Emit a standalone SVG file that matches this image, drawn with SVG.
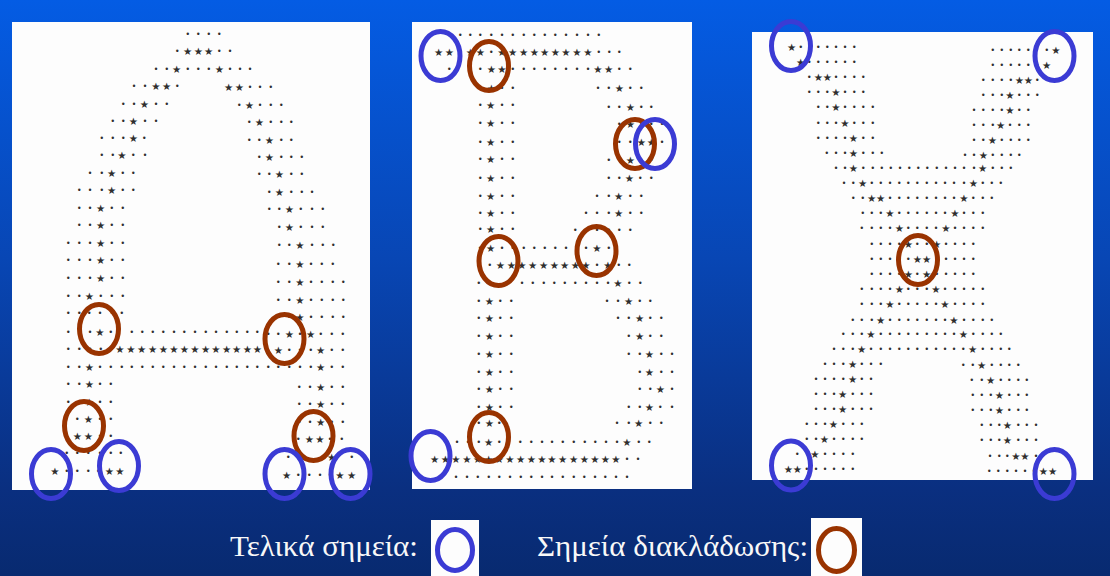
<svg xmlns="http://www.w3.org/2000/svg" width="1110" height="576" viewBox="0 0 1110 576">
<defs>
<linearGradient id="bg" x1="0" y1="0" x2="0" y2="1">
<stop offset="0" stop-color="#045ce4"/>
<stop offset="0.45" stop-color="#0846b4"/>
<stop offset="0.85" stop-color="#0a2f80"/>
<stop offset="1" stop-color="#082a70"/>
</linearGradient>
<style>
.panel{fill:#fdfdfd}
.r{fill:#2e2e2e;text-anchor:middle;dominant-baseline:central}
.d{font-family:"Liberation Sans",Arial,sans-serif;font-size:26px;text-anchor:middle;dominant-baseline:central}
.s{font-family:"DejaVu Sans",sans-serif;font-size:31px;text-anchor:middle;dominant-baseline:central}
.end{fill:none;stroke:#3b3bd4;stroke-width:5}
.br{fill:none;stroke:#993300;stroke-width:5}
.lg{font-family:"Liberation Serif","Times New Roman",serif;font-size:30px;fill:#f8f8f8}
</style>
</defs>
<rect width="1110" height="576" fill="url(#bg)"/>

<g id="panel-A">
<rect class="panel" x="12" y="22" width="358" height="468"/>
<g transform="translate(50,25) scale(0.33333)">
<text class="r" y="27"><tspan class="d" x="413 445 476 508">••••</tspan></text>
<text class="r" y="78"><tspan class="d" x="382 508 540">•••</tspan><tspan class="s" x="413 445 476">★★★</tspan></text>
<text class="r" y="131"><tspan class="d" x="318 350 413 445 476 540 570 600">••••••••</tspan><tspan class="s" x="380 508">★★</tspan></text>
<text class="r" y="183"><tspan class="d" x="252 285 382">•••</tspan><tspan class="s" x="318 350">★★</tspan><tspan class="d" x="600 630 662" y="186">•••</tspan><tspan class="s" x="536 568" y="186">★★</tspan></text>
<text class="r" y="236"><tspan class="d" x="220 252 318 350">••••</tspan><tspan class="s" x="283">★</tspan><tspan class="d" x="568 630 662 694" y="239">••••</tspan><tspan class="s" x="598" y="239">★</tspan></text>
<text class="r" y="288"><tspan class="d" x="188 220 285 318">••••</tspan><tspan class="s" x="250">★</tspan><tspan class="d" x="598 662 694 724" y="292">••••</tspan><tspan class="s" x="628" y="292">★</tspan></text>
<text class="r" y="340"><tspan class="d" x="155 188 220 283">••••</tspan><tspan class="s" x="250">★</tspan><tspan class="d" x="598 628 694 724" y="345">••••</tspan><tspan class="s" x="658" y="345">★</tspan></text>
<text class="r" y="390"><tspan class="d" x="155 188 250 285">••••</tspan><tspan class="s" x="216">★</tspan><tspan class="d" x="628 694 724 755" y="395">••••</tspan><tspan class="s" x="658" y="395">★</tspan></text>
<text class="r" y="443"><tspan class="d" x="120 155 218 250">••••</tspan><tspan class="s" x="185">★</tspan><tspan class="d" x="628 658 724 755" y="448">••••</tspan><tspan class="s" x="688" y="448">★</tspan></text>
<text class="r" y="495"><tspan class="d" x="88 120 155 218 250">•••••</tspan><tspan class="s" x="185">★</tspan><tspan class="d" x="658 724 755 786" y="500">••••</tspan><tspan class="s" x="688" y="500">★</tspan></text>
<text class="r" y="548"><tspan class="d" x="88 120 185 218">••••</tspan><tspan class="s" x="152">★</tspan><tspan class="d" x="658 688 752 786 818" y="553">•••••</tspan><tspan class="s" x="718" y="553">★</tspan></text>
<text class="r" y="600"><tspan class="d" x="88 120 185 218">••••</tspan><tspan class="s" x="152">★</tspan><tspan class="d" x="688 752 786 818" y="605">••••</tspan><tspan class="s" x="718" y="605">★</tspan></text>
<text class="r" y="655"><tspan class="d" x="55 88 120 185 218">•••••</tspan><tspan class="s" x="152">★</tspan><tspan class="d" x="688 718 786 818 850" y="660">•••••</tspan><tspan class="s" x="750" y="660">★</tspan></text>
<text class="r" y="705"><tspan class="d" x="55 88 120 185 218">•••••</tspan><tspan class="s" x="152">★</tspan><tspan class="d" x="685 718 783 815 848" y="716">•••••</tspan><tspan class="s" x="750" y="716">★</tspan></text>
<text class="r" y="760"><tspan class="d" x="55 88 120 185 218">•••••</tspan><tspan class="s" x="152">★</tspan><tspan class="d" x="685 718 783 815 848 880" y="770">••••••</tspan><tspan class="s" x="750" y="770">★</tspan></text>
<text class="r" y="812"><tspan class="d" x="55 88 152 185 218">•••••</tspan><tspan class="s" x="118">★</tspan><tspan class="d" x="685 718 783 815 848 880" y="824">••••••</tspan><tspan class="s" x="750" y="824">★</tspan></text>
<text class="r" y="865"><tspan class="d" x="55 88 118 150 185 215">••••••</tspan><tspan class="d" x="685 718 783 815 848 880" y="877">••••••</tspan><tspan class="s" x="750" y="877">★</tspan></text>
<text class="r" y="920"><tspan class="d" x="55 88 120 182 245 277 308 340 372 403 435 467 498 530 560 592 622">•••••••••••••••••</tspan><tspan class="s" x="150">★</tspan><tspan class="d" x="655 685 750 812 845 878" y="927">••••••</tspan><tspan class="s" x="718 782" y="927">★★</tspan></text>
<text class="r" y="972"><tspan class="d" x="55 88 120 152 182">•••••</tspan><tspan class="s" x="210 243 275 308 340 372 403 435 467 498 530 560 592 622">★★★★★★★★★★★★★★</tspan><tspan class="d" x="718 750 782 845 878" y="975">•••••</tspan><tspan class="s" x="685 812" y="975">★★</tspan></text>
<text class="r" y="1026"><tspan class="d" x="55 88 150 182 215 245 277 308 340 372 403 435 467 498 530 560 592 622 655 685 718 750 782 845 878">•••••••••••••••••••••••••</tspan><tspan class="s" x="118 812">★★</tspan></text>
<text class="r" y="1077"><tspan class="d" x="55 88 150 182">••••</tspan><tspan class="s" x="118">★</tspan><tspan class="d" x="748 780 845 878" y="1085">••••</tspan><tspan class="s" x="812" y="1085">★</tspan></text>
<text class="r" y="1130"><tspan class="d" x="55 88 150 182">••••</tspan><tspan class="s" x="118">★</tspan><tspan class="d" x="748 780 845 878" y="1138">••••</tspan><tspan class="s" x="812" y="1138">★</tspan></text>
<text class="r" y="1182"><tspan class="d" x="82 150 182">•••</tspan><tspan class="s" x="115">★</tspan><tspan class="d" x="748 780 845 878" y="1192">••••</tspan><tspan class="s" x="812" y="1192">★</tspan></text>
<text class="r" y="1232"><tspan class="d" x="150 182">••</tspan><tspan class="s" x="82 115">★★</tspan><tspan class="d" x="745 840 875" y="1243">•••</tspan><tspan class="s" x="778 810" y="1243">★★</tspan></text>
<text class="r" y="1285"><tspan class="d" x="50 82 115 150 182 212">••••••</tspan><tspan class="d" x="715 905" y="1295">••</tspan><tspan class="s" x="845" y="1295">★</tspan></text>
<text class="r" y="1338"><tspan class="d" x="50 82 115 145">••••</tspan><tspan class="s" x="15 178 210">★★★</tspan><tspan class="d" x="745 778 810 840" y="1350">••••</tspan><tspan class="s" x="710 870 905" y="1350">★★★</tspan></text>
</g>
</g>

<g id="panel-B">
<rect class="panel" x="412" y="22" width="280" height="467"/>
<g transform="translate(412,25) scale(0.33333)">
<text class="r" y="30"><tspan class="d" x="145 175 205 238 270 302 335 367 398 430 462 495 528 560">••••••••••••••</tspan></text>
<text class="r" y="80"><tspan class="d" x="238 560 592 622">••••</tspan><tspan class="s" x="80 112 175 205 270 302 335 367 398 430 462 495 528">★★★★★★★★★★★★★</tspan></text>
<text class="r" y="133"><tspan class="d" x="112 205 302 335 367 398 430 462 495 528 622 655">••••••••••••</tspan><tspan class="s" x="238 270 558 590">★★★★</tspan></text>
<text class="r" y="188"><tspan class="d" x="205 270 302">•••</tspan><tspan class="s" x="238">★</tspan><tspan class="d" x="558 590 655 688" y="190">••••</tspan><tspan class="s" x="622" y="190">★</tspan></text>
<text class="r" y="240"><tspan class="d" x="205 270 302">•••</tspan><tspan class="s" x="236">★</tspan><tspan class="d" x="590 622 688 718" y="245">••••</tspan><tspan class="s" x="655" y="245">★</tspan></text>
<text class="r" y="293"><tspan class="d" x="205 270 302">•••</tspan><tspan class="s" x="236">★</tspan><tspan class="d" x="622 688 718 750" y="298">••••</tspan><tspan class="s" x="655" y="298">★</tspan></text>
<text class="r" y="350"><tspan class="d" x="205 270 302">•••</tspan><tspan class="s" x="236">★</tspan><tspan class="d" x="622 655 750" y="352">•••</tspan><tspan class="s" x="688 718" y="352">★★</tspan></text>
<text class="r" y="403"><tspan class="d" x="205 270 302">•••</tspan><tspan class="s" x="236">★</tspan><tspan class="d" x="590 622 688 718" y="405">••••</tspan><tspan class="s" x="655" y="405">★</tspan></text>
<text class="r" y="460"><tspan class="d" x="205 270 302">•••</tspan><tspan class="s" x="236">★</tspan><tspan class="d" x="590 622 685 718">••••</tspan><tspan class="s" x="652">★</tspan></text>
<text class="r" y="513"><tspan class="d" x="205 270 302">•••</tspan><tspan class="s" x="236">★</tspan><tspan class="d" x="555 590 655 688">••••</tspan><tspan class="s" x="620">★</tspan></text>
<text class="r" y="565"><tspan class="d" x="205 270 302">•••</tspan><tspan class="s" x="236">★</tspan><tspan class="d" x="522 555 590 655 688">•••••</tspan><tspan class="s" x="620">★</tspan></text>
<text class="r" y="612"><tspan class="d" x="205 270 302">•••</tspan><tspan class="s" x="236">★</tspan><tspan class="d" x="490 522 555 590 622 655" y="615">••••••</tspan></text>
<text class="r" y="668"><tspan class="d" x="204 270 302 335 367 398 430 462 522 590">••••••••••</tspan><tspan class="s" x="236 555">★★</tspan></text>
<text class="r" y="720"><tspan class="d" x="233 555 620 652">••••</tspan><tspan class="s" x="265 298 330 362 395 427 458 490 522 588">★★★★★★★★★★</tspan></text>
<text class="r" y="775"><tspan class="d" x="200 330 362 395 427 458 490 522 555 588 652 685">••••••••••••</tspan><tspan class="s" x="618">★</tspan></text>
<text class="r" y="827"><tspan class="d" x="200 265 298 585 618 683 715">•••••••</tspan><tspan class="s" x="232 650">★★</tspan></text>
<text class="r" y="880"><tspan class="d" x="200 265 298 618 650 715 748">•••••••</tspan><tspan class="s" x="232 683">★★</tspan></text>
<text class="r" y="933"><tspan class="d" x="200 265 298 650 715 748">••••••</tspan><tspan class="s" x="232 683">★★</tspan></text>
<text class="r" y="987"><tspan class="d" x="200 265 298 650 683 748 780">•••••••</tspan><tspan class="s" x="232 712">★★</tspan></text>
<text class="r" y="1040"><tspan class="d" x="200 265 298 683 748 780">••••••</tspan><tspan class="s" x="232 712">★★</tspan></text>
<text class="r" y="1093"><tspan class="d" x="200 265 298 683 715 780">••••••</tspan><tspan class="s" x="232 745">★★</tspan></text>
<text class="r" y="1145"><tspan class="d" x="200 265 298 650 683 745 780">•••••••</tspan><tspan class="s" x="232 712">★★</tspan></text>
<text class="r" y="1195"><tspan class="d" x="200 262 615 650 715 748">••••••</tspan><tspan class="s" x="232 680">★★</tspan></text>
<text class="r" y="1250"><tspan class="d" x="135 168 200 262 325 358 390 420 452 485 518 550 582 615 680 712">••••••••••••••••</tspan><tspan class="s" x="230 645">★★</tspan></text>
<text class="r" y="1303"><tspan class="d" x="645 678">••</tspan><tspan class="s" x="68 100 132 165 197 230 262 294 326 358 390 420 452 485 517 549 580 612">★★★★★★★★★★★★★★★★★★</tspan></text>
<text class="r" y="1357"><tspan class="d" x="132 165 197 230 262 294 326 358 390 420 452 485 517 549 580 612 645">•••••••••••••••••</tspan></text>
</g>
</g>

<g id="panel-X">
<rect class="panel" x="752" y="32" width="341" height="448"/>
<g transform="translate(760,35) scale(0.33333)">
<text class="r" y="35"><tspan class="d" x="122 175 202 228 255 283">••••••</tspan><tspan class="s" x="95">★</tspan><tspan class="d" x="698 725 752 778 805 860" y="45">••••••</tspan><tspan class="s" x="888" y="45">★</tspan></text>
<text class="r" y="80"><tspan class="d" x="148 175 202 228 255 283">••••••</tspan><tspan class="s" x="122">★</tspan><tspan class="d" x="698 725 752 778 805 832" y="90">••••••</tspan><tspan class="s" x="860" y="90">★</tspan></text>
<text class="r" y="127"><tspan class="d" x="148 228 255 283 310">•••••</tspan><tspan class="s" x="175 202">★★</tspan><tspan class="d" x="670 698 725 752 832" y="135">•••••</tspan><tspan class="s" x="778 805" y="135">★★</tspan></text>
<text class="r" y="172"><tspan class="d" x="148 175 202 255 283 310">••••••</tspan><tspan class="s" x="228">★</tspan><tspan class="d" x="670 698 725 778 805 832" y="180">••••••</tspan><tspan class="s" x="750" y="180">★</tspan></text>
<text class="r" y="217"><tspan class="d" x="175 202 255 283 310 338">••••••</tspan><tspan class="s" x="228">★</tspan><tspan class="d" x="642 670 698 725 778 805" y="225">••••••</tspan><tspan class="s" x="750" y="225">★</tspan></text>
<text class="r" y="263"><tspan class="d" x="175 202 228 283 310 338">••••••</tspan><tspan class="s" x="255">★</tspan><tspan class="d" x="642 670 698 750 778 805" y="270">••••••</tspan><tspan class="s" x="722" y="270">★</tspan></text>
<text class="r" y="308"><tspan class="d" x="175 202 228 255 310 338">••••••</tspan><tspan class="s" x="280">★</tspan><tspan class="d" x="642 670 725 752 778 805" y="316">••••••</tspan><tspan class="s" x="697" y="316">★</tspan></text>
<text class="r" y="353"><tspan class="d" x="200 228 255 310 338 365">••••••</tspan><tspan class="s" x="280">★</tspan><tspan class="d" x="615 642 698 725 752 778" y="360">••••••</tspan><tspan class="s" x="670" y="360">★</tspan></text>
<text class="r" y="400"><tspan class="d" x="228 255 310 338 365 392 420 448 475 502 530 558 585 612 642 698 725 752">••••••••••••••••••</tspan><tspan class="s" x="280 668">★★</tspan></text>
<text class="r" y="445"><tspan class="d" x="252 280 335 362 390 418 445 472 500 528 555 582 612 668 695 722">••••••••••••••••</tspan><tspan class="s" x="308 640">★★</tspan></text>
<text class="r" y="490"><tspan class="d" x="280 308 390 418 445 472 500 528 555 582 640 668 695">•••••••••••••</tspan><tspan class="s" x="335 362 612">★★★</tspan></text>
<text class="r" y="535"><tspan class="d" x="308 335 362 418 445 472 500 528 555 612 640 668">••••••••••••</tspan><tspan class="s" x="390 585">★★</tspan></text>
<text class="r" y="580"><tspan class="d" x="305 335 362 390 445 472 500 528 585 612 640 668">••••••••••••</tspan><tspan class="s" x="418 558">★★</tspan></text>
<text class="r" y="628"><tspan class="d" x="335 362 390 418 472 500 558 585 612 640">••••••••••</tspan><tspan class="s" x="445 530">★★</tspan></text>
<text class="r" y="673"><tspan class="d" x="335 362 390 418 445 530 558 585 612 640">••••••••••</tspan><tspan class="s" x="472 500">★★</tspan></text>
<text class="r" y="717"><tspan class="d" x="335 362 390 418 472 530 558 585 612 640">••••••••••</tspan><tspan class="s" x="445 500">★★</tspan></text>
<text class="r" y="762"><tspan class="d" x="305 335 362 390 445 472 500 555 585 612 640 668">••••••••••••</tspan><tspan class="s" x="418 528">★★</tspan></text>
<text class="r" y="807"><tspan class="d" x="305 335 362 418 445 472 500 528 585 612 640 668">••••••••••••</tspan><tspan class="s" x="390 555">★★</tspan></text>
<text class="r" y="855"><tspan class="d" x="278 305 335 390 418 445 472 500 528 555 612 640 668 695">••••••••••••••</tspan><tspan class="s" x="362 582">★★</tspan></text>
<text class="r" y="898"><tspan class="d" x="250 278 305 362 390 418 445 472 500 528 555 582 640 668 695 722">••••••••••••••••</tspan><tspan class="s" x="333 610">★★</tspan></text>
<text class="r" y="942"><tspan class="d" x="222 250 278 333 362 390 418 445 472 500 528 555 582 610 668 695 722 748">••••••••••••••••••</tspan><tspan class="s" x="305 638">★★</tspan></text>
<text class="r" y="987"><tspan class="d" x="195 222 250 305 333 362">••••••</tspan><tspan class="s" x="278">★</tspan><tspan class="d" x="610 638 695 722 748 775" y="990">••••••</tspan><tspan class="s" x="665" y="990">★</tspan></text>
<text class="r" y="1032"><tspan class="d" x="168 195 222 250 305 333">••••••</tspan><tspan class="s" x="278">★</tspan><tspan class="d" x="635 665 722 748 775 800" y="1035">••••••</tspan><tspan class="s" x="692" y="1035">★</tspan></text>
<text class="r" y="1077"><tspan class="d" x="168 195 222 278 305 333">••••••</tspan><tspan class="s" x="248">★</tspan><tspan class="d" x="638 665 692 748 775 800" y="1080">••••••</tspan><tspan class="s" x="718" y="1080">★</tspan></text>
<text class="r" y="1123"><tspan class="d" x="168 195 222 278 305 333">••••••</tspan><tspan class="s" x="248">★</tspan><tspan class="d" x="638 665 692 748 775 800" y="1126">••••••</tspan><tspan class="s" x="718" y="1126">★</tspan></text>
<text class="r" y="1167"><tspan class="d" x="140 168 195 250 278 305">••••••</tspan><tspan class="s" x="220">★</tspan><tspan class="d" x="665 692 718 775 800 828" y="1170">••••••</tspan><tspan class="s" x="742" y="1170">★</tspan></text>
<text class="r" y="1213"><tspan class="d" x="140 168 222 250 278 305">••••••</tspan><tspan class="s" x="193">★</tspan><tspan class="d" x="665 692 718 775 800 828" y="1216">••••••</tspan><tspan class="s" x="742" y="1216">★</tspan></text>
<text class="r" y="1257"><tspan class="d" x="112 195 222 250 278">•••••</tspan><tspan class="s" x="165">★</tspan><tspan class="d" x="690 718 742 828" y="1262">••••</tspan><tspan class="s" x="768 795" y="1262">★★</tspan></text>
<text class="r" y="1302"><tspan class="d" x="140 168 195 222 250 278">••••••</tspan><tspan class="s" x="85 112">★★</tspan><tspan class="d" x="688 715 742 768 795 822" y="1308">••••••</tspan><tspan class="s" x="850 878" y="1308">★★</tspan></text>
</g>
</g>

<g id="branch-points">
<ellipse class="br" cx="99" cy="329" rx="19.5" ry="24.5"/>
<ellipse class="br" cx="284.5" cy="339" rx="19.5" ry="24.5"/>
<ellipse class="br" cx="84" cy="426" rx="19.5" ry="24.5"/>
<ellipse class="br" cx="313.5" cy="436" rx="19.5" ry="24.5"/>
<ellipse class="br" cx="489" cy="66" rx="19.5" ry="24.5"/>
<ellipse class="br" cx="635" cy="144" rx="19.5" ry="24.5"/>
<ellipse class="br" cx="498.5" cy="261" rx="19.5" ry="24.5"/>
<ellipse class="br" cx="596.5" cy="251" rx="19.5" ry="24.5"/>
<ellipse class="br" cx="489" cy="437" rx="19.5" ry="24.5"/>
<ellipse class="br" cx="918" cy="260" rx="19.5" ry="24.5"/>
</g>
<g id="end-points">
<ellipse class="end" cx="51" cy="474" rx="19.5" ry="24.5"/>
<ellipse class="end" cx="119" cy="466" rx="19.5" ry="24.5"/>
<ellipse class="end" cx="284.5" cy="474" rx="19.5" ry="24.5"/>
<ellipse class="end" cx="350.5" cy="474" rx="19.5" ry="24.5"/>
<ellipse class="end" cx="440.5" cy="56" rx="19.5" ry="24.5"/>
<ellipse class="end" cx="655" cy="144" rx="19.5" ry="24.5"/>
<ellipse class="end" cx="430.5" cy="456" rx="19.5" ry="24.5"/>
<ellipse class="end" cx="791" cy="46" rx="19.5" ry="24.5"/>
<ellipse class="end" cx="1054.5" cy="56" rx="19.5" ry="24.5"/>
<ellipse class="end" cx="791" cy="465.5" rx="19.5" ry="24.5"/>
<ellipse class="end" cx="1054.5" cy="474" rx="19.5" ry="24.5"/>
</g>

<g id="legend">
<text class="lg" x="230" y="556" textLength="188" lengthAdjust="spacingAndGlyphs">Τελικά σημεία:</text>
<rect x="431" y="520" width="48" height="56" fill="#fdfdfd"/>
<ellipse class="end" cx="455" cy="550" rx="17.5" ry="20.5"/>
<text class="lg" x="537" y="556" textLength="271" lengthAdjust="spacingAndGlyphs">Σημεία διακλάδωσης:</text>
<rect x="811" y="518" width="51" height="58" fill="#fdfdfd"/>
<ellipse class="br" cx="836.5" cy="550" rx="18" ry="21.5"/>
</g>
</svg>
